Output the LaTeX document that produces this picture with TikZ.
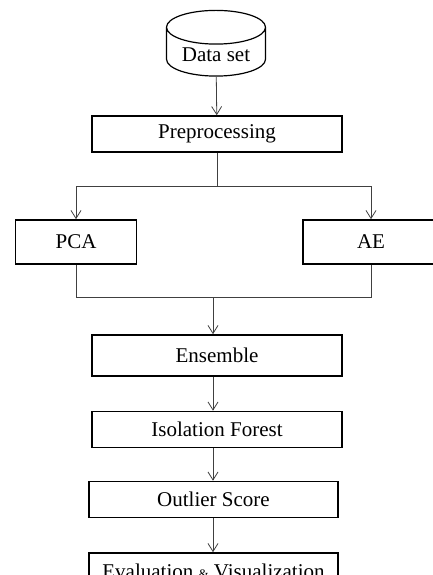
\documentclass[tikz,border=0pt]{standalone}
\usepackage{fontspec}
\setmainfont{Liberation Serif}
\usetikzlibrary{shapes.geometric,arrows.meta}
\begin{document}
\begin{tikzpicture}[x=1pt,y=-1pt,
		stepbox/.style={draw,line width=1.6pt,minimum height=36pt,font=\fontsize{21}{24}\selectfont},
		link/.style={draw=black!75,line width=0.8pt},
		tip/.style={link,-{Straight Barb[length=8pt,width=10pt]}}]
				\useasboundingbox (0,0) rectangle (433,575);
				\node[draw,line width=1.2pt,cylinder,shape border rotate=90,aspect=0.45,minimum width=99pt,minimum height=62pt,font=\fontsize{21}{24}\selectfont] (data) at (216,55) {Data set};
				\node[stepbox,minimum width=250pt] (pre) at (217,134) {Preprocessing};
				\node[stepbox,minimum width=121pt,minimum height=44pt] (pca) at (76,242) {PCA};
				\node[stepbox,minimum width=136pt,minimum height=44pt] (ae) at (371,242) {AE};
				\node[stepbox,minimum width=250pt,minimum height=41pt] (ens) at (217,355.5) {Ensemble};
				\node[stepbox,minimum width=250pt] (iso) at (217,429.5) {Isolation Forest};
				\node[stepbox,minimum width=249pt] (out) at (213.5,499.5) {Outlier Score};
				\node[stepbox,minimum width=249pt] (eval) at (213.5,571) {Evaluation {\fontsize{13}{13}\selectfont\&} Visualization};
				\coordinate (split) at (217,186);
				\coordinate (join) at (213,297);
				\draw[tip] (data) -- (pre);
				\draw[link] (pre) -- (split);
				\draw[tip] (split) -| (pca);
				\draw[tip] (split) -| (ae);
				\draw[link] (pca) |- (join);
				\draw[link] (ae) |- (join);
				\draw[tip] (join) -- (join |- ens.north);
				\draw[tip] (ens.south -| join) -- (iso.north -| join);
				\draw[tip] (iso.south -| join) -- (out.north -| join);
				\draw[tip] (out.south -| join) -- (eval.north -| join);
			\end{tikzpicture}
\end{document}
